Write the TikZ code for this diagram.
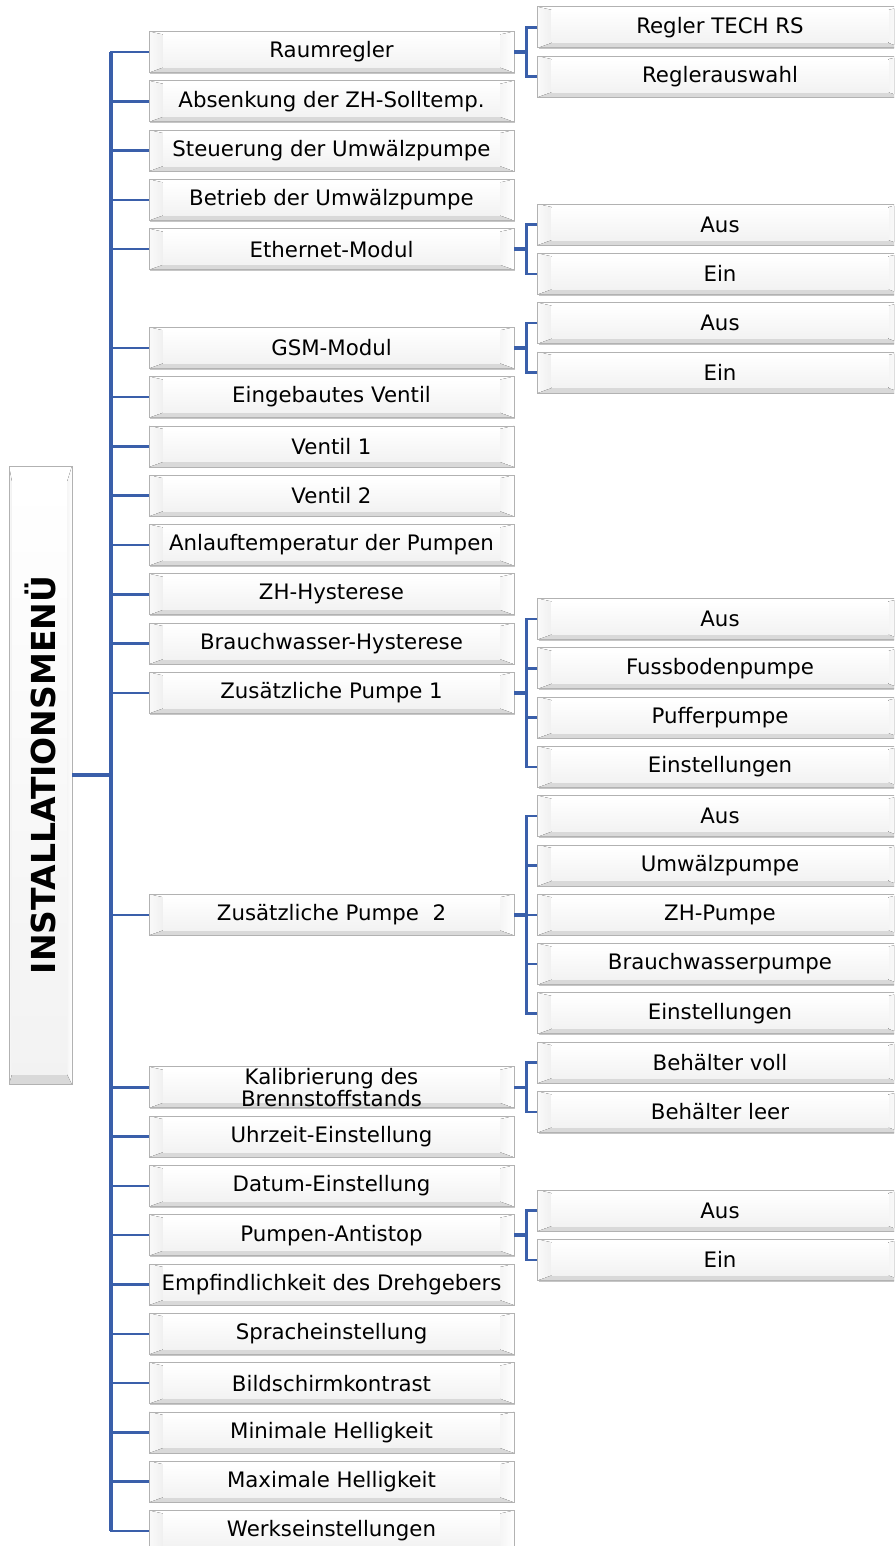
\documentclass[tikz,border=0pt]{standalone}
\usepackage{fontspec}
\setmainfont{DejaVu Sans}
\usetikzlibrary{calc, shadows}

\definecolor{linkblue}{RGB}{58,95,170}

% bevelled face of a box: insets left, right, top, bottom (pt)
\newcommand{\bevelface}[4]{%
  \path (path picture bounding box.north west) coordinate (bnw)
        (path picture bounding box.north east) coordinate (bne)
        (path picture bounding box.south east) coordinate (bse)
        (path picture bounding box.south west) coordinate (bsw)
        ($(bnw)+(#1pt,-#3pt)$) coordinate (inw)
        ($(bne)+(-#2pt,-#3pt)$) coordinate (ine)
        ($(bse)+(-#2pt,#4pt)$) coordinate (ise)
        ($(bsw)+(#1pt,#4pt)$) coordinate (isw);
  \fill[white] (bnw) -- (bne) -- (ine) -- (inw) -- cycle;
  \fill[gray!30] (bsw) -- (bse) -- (ise) -- (isw) -- cycle;
  \fill[left color=gray!4, right color=gray!12] (bnw) -- (inw) -- (isw) -- (bsw) -- cycle;
  \fill[left color=gray!8, right color=white] (bne) -- (ine) -- (ise) -- (bse) -- cycle;
  \fill[top color=white, bottom color=gray!10] (inw) rectangle (ise);
}

\tikzset{
  menubox/.style={draw=gray!60, line width=0.8pt, minimum width=365pt,
    minimum height=41pt, inner sep=0pt, align=center,
    font=\fontsize{21.3}{22}\selectfont,
    drop shadow={shadow xshift=1.2pt, shadow yshift=-1.2pt, opacity=.45},
    path picture={\bevelface{14}{14}{3}{5}}},
  rootbox/.style={menubox, minimum width=63pt, minimum height=618pt,
    font=\fontsize{33}{33}\selectfont\bfseries,
    path picture={\bevelface{3}{5}{16}{10}}},
  trunk/.style={draw=linkblue, line width=4pt},
  stub/.style={draw=linkblue, line width=3.5pt},
  branch/.style={draw=linkblue, line width=2.5pt},
}

\def\pitch{49.3}

\begin{document}
\begin{tikzpicture}[x=1pt, y=-1pt]
    \useasboundingbox (0,0) rectangle (894,1546);
    \clip (0,0) rectangle (894,1546);

    % Root
    \node[rootbox] (menu) at (40.5,775) {\rotatebox{90}{INSTALLATIONSMENÜ}};
    \coordinate (tr) at (111,775);

    % Main column
    \node[menubox] (raum)     at (331.5,52) {Raumregler};
    \node[menubox] (absenk)   at (331.5,52+1*\pitch) {Absenkung der ZH-Solltemp.};
    \node[menubox] (steuer)   at (331.5,52+2*\pitch) {Steuerung der Umwälzpumpe};
    \node[menubox] (betrieb)  at (331.5,52+3*\pitch) {Betrieb der Umwälzpumpe};
    \node[menubox] (ethernet) at (331.5,52+4*\pitch) {Ethernet-Modul};
    \node[menubox] (gsm)      at (331.5,52+6*\pitch) {GSM-Modul};
    \node[menubox] (ventilE)  at (331.5,52+7*\pitch) {Eingebautes Ventil};
    \node[menubox] (ventilA)  at (331.5,52+8*\pitch) {Ventil 1};
    \node[menubox] (ventilB)  at (331.5,52+9*\pitch) {Ventil 2};
    \node[menubox] (anlauf)   at (331.5,52+10*\pitch) {Anlauftemperatur der Pumpen};
    \node[menubox] (zhhyst)   at (331.5,52+11*\pitch) {ZH-Hysterese};
    \node[menubox] (bwhyst)   at (331.5,52+12*\pitch) {Brauchwasser-Hysterese};
    \node[menubox] (pumpeA)   at (331.5,52+13*\pitch) {Zusätzliche Pumpe 1};
    \node[menubox] (pumpeB)   at (331.5,52+17.5*\pitch) {Zusätzliche Pumpe\ \ 2};
    \node[menubox, font=\fontsize{21.3}{21.5}\selectfont] (kalib) at (331.5,52+21*\pitch) {Kalibrierung des\\Brennstoffstands};
    \node[menubox] (uhr)      at (331.5,52+22*\pitch) {Uhrzeit-Einstellung};
    \node[menubox] (datum)    at (331.5,52+23*\pitch) {Datum-Einstellung};
    \node[menubox] (antistop) at (331.5,52+24*\pitch) {Pumpen-Antistop};
    \node[menubox] (dreh)     at (331.5,52+25*\pitch) {Empfindlichkeit des Drehgebers};
    \node[menubox] (sprache)  at (331.5,52+26*\pitch) {Spracheinstellung};
    \node[menubox] (kontrast) at (331.5,52+27*\pitch) {Bildschirmkontrast};
    \node[menubox] (hellmin)  at (331.5,52+28*\pitch) {Minimale Helligkeit};
    \node[menubox] (hellmax)  at (331.5,52+29*\pitch) {Maximale Helligkeit};
    \node[menubox] (werk)     at (331.5,52+30*\pitch) {Werkseinstellungen};

    % Sub column
    \node[menubox] (raumA)   at (720,52-0.5*\pitch) {Regler TECH RS};
    \node[menubox] (raumB)   at (720,52+0.5*\pitch) {Reglerauswahl};
    \node[menubox] (ethA)    at (720,52+3.5*\pitch) {Aus};
    \node[menubox] (ethB)    at (720,52+4.5*\pitch) {Ein};
    \node[menubox] (gsmA)    at (720,52+5.5*\pitch) {Aus};
    \node[menubox] (gsmB)    at (720,52+6.5*\pitch) {Ein};
    \node[menubox] (pumpeAa) at (720,52+11.5*\pitch) {Aus};
    \node[menubox] (pumpeAb) at (720,52+12.5*\pitch) {Fussbodenpumpe};
    \node[menubox] (pumpeAc) at (720,52+13.5*\pitch) {Pufferpumpe};
    \node[menubox] (pumpeAd) at (720,52+14.5*\pitch) {Einstellungen};
    \node[menubox] (pumpeBa) at (720,52+15.5*\pitch) {Aus};
    \node[menubox] (pumpeBb) at (720,52+16.5*\pitch) {Umwälzpumpe};
    \node[menubox] (pumpeBc) at (720,52+17.5*\pitch) {ZH-Pumpe};
    \node[menubox] (pumpeBd) at (720,52+18.5*\pitch) {Brauchwasserpumpe};
    \node[menubox] (pumpeBe) at (720,52+19.5*\pitch) {Einstellungen};
    \node[menubox] (kalibA)  at (720,52+20.5*\pitch) {Behälter voll};
    \node[menubox] (kalibB)  at (720,52+21.5*\pitch) {Behälter leer};
    \node[menubox] (antiA)   at (720,52+23.5*\pitch) {Aus};
    \node[menubox] (antiB)   at (720,52+24.5*\pitch) {Ein};

    % Trunk
    \draw[trunk] (menu.east) -- (tr);
    \draw[branch] (raum.west) -| (tr) |- (werk.west);
    \draw[trunk] (tr |- raum.west) -- (tr |- werk.west);
    \foreach \item in {absenk, steuer, betrieb, ethernet, gsm, ventilE, ventilA,
        ventilB, anlauf, zhhyst, bwhyst, pumpeA, pumpeB, kalib, uhr, datum,
        antistop, dreh, sprache, kontrast, hellmin, hellmax}
        \draw[branch] (tr |- \item.west) -- (\item.west);

    % Sub branches
    \draw[stub] (raum.east) -- ++(12,0) coordinate (jraum);
    \draw[branch] (raumA.west) -| (jraum) |- (raumB.west);
    \draw[stub] (ethernet.east) -- ++(12,0) coordinate (jeth);
    \draw[branch] (ethA.west) -| (jeth) |- (ethB.west);
    \draw[stub] (gsm.east) -- ++(12,0) coordinate (jgsm);
    \draw[branch] (gsmA.west) -| (jgsm) |- (gsmB.west);
    \draw[stub] (pumpeA.east) -- ++(12,0) coordinate (jpA);
    \draw[branch] (pumpeAa.west) -| (jpA) |- (pumpeAd.west);
    \draw[branch] (jpA |- pumpeAb.west) -- (pumpeAb.west);
    \draw[branch] (jpA |- pumpeAc.west) -- (pumpeAc.west);
    \draw[stub] (pumpeB.east) -- ++(12,0) coordinate (jpB);
    \draw[branch] (pumpeBa.west) -| (jpB) |- (pumpeBe.west);
    \draw[branch] (jpB |- pumpeBb.west) -- (pumpeBb.west);
    \draw[branch] (jpB |- pumpeBc.west) -- (pumpeBc.west);
    \draw[branch] (jpB |- pumpeBd.west) -- (pumpeBd.west);
    \draw[stub] (kalib.east) -- ++(12,0) coordinate (jkal);
    \draw[branch] (kalibA.west) -| (jkal) |- (kalibB.west);
    \draw[stub] (antistop.east) -- ++(12,0) coordinate (janti);
    \draw[branch] (antiA.west) -| (janti) |- (antiB.west);
\end{tikzpicture}
\end{document}
